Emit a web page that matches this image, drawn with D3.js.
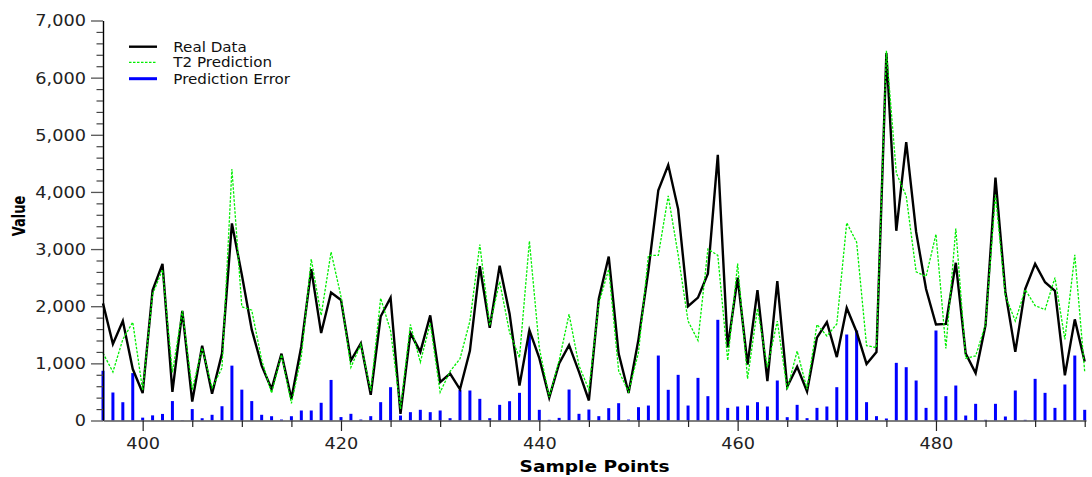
<!DOCTYPE html>
<html>
<head>
<meta charset="utf-8">
<script src="https://cdn.jsdelivr.net/npm/d3@7"></script>
<style>
  html, body { margin: 0; padding: 0; background: #fff; }
  svg { display: block; }
  text { font-family: "DejaVu Sans", Verdana, sans-serif; }
</style>
</head>
<body>
<svg id="chart" width="1092" height="477"></svg>
<script>
// Sample indices on the x axis
const samplePoints = [
  396, 397, 398, 399, 400, 401, 402, 403, 404, 405,
  406, 407, 408, 409, 410, 411, 412, 413, 414, 415,
  416, 417, 418, 419, 420, 421, 422, 423, 424, 425,
  426, 427, 428, 429, 430, 431, 432, 433, 434, 435,
  436, 437, 438, 439, 440, 441, 442, 443, 444, 445,
  446, 447, 448, 449, 450, 451, 452, 453, 454, 455,
  456, 457, 458, 459, 460, 461, 462, 463, 464, 465,
  466, 467, 468, 469, 470, 471, 472, 473, 474, 475,
  476, 477, 478, 479, 480, 481, 482, 483, 484, 485,
  486, 487, 488, 489, 490, 491, 492, 493, 494, 495
];

// Observed values
const realData = [
  2050, 1340, 1740, 900, 480, 2280, 2740, 500, 1920, 330,
  1310, 470, 1170, 3450, 2550, 1590, 960, 550, 1170, 380,
  1300, 2650, 1530, 2240, 2110, 1050, 1350, 450, 1820, 2150,
  115, 1530, 1200, 1840, 670, 820, 545, 1220, 2700, 1620,
  2710, 1870, 612, 1580, 1090, 400, 1000, 1320, 850, 350,
  2130, 2870, 1170, 480, 1420, 2625, 4030, 4470, 3700, 2000,
  2150, 2570, 4650, 1280, 2500, 980, 2280, 690, 2440, 590,
  940, 510, 1450, 1720, 1110, 1970, 1550, 990, 1200, 6430,
  3320, 4870, 3300, 2300, 1680, 1690, 2760, 1170, 830, 1670,
  4250, 2250, 1200, 2300, 2740, 2420, 2270, 790, 1770, 1030
];

// T2 model predictions
const t2Prediction = [
  1180, 850, 1420, 1720, 530, 2210, 2640, 840, 1920, 540,
  1270, 570, 920, 4400, 1990, 1930, 1060, 480, 1150, 300,
  1120, 2825, 1840, 2950, 2170, 930, 1335, 520, 2140, 1570,
  200, 1680, 1020, 1700, 495, 860, 1080, 1740, 3080, 1660,
  2430, 1540, 1100, 3140, 1270, 410, 1050, 1860, 960, 540,
  2050, 2650, 870, 500, 1190, 2887, 2890, 3930, 2900, 1740,
  1400, 3000, 2890, 1050, 2745, 730, 1960, 935, 1740, 540,
  1215, 550, 1680, 1480, 1690, 3460, 3120, 1310, 1275, 6470,
  4330, 3930, 2600, 2520, 3260, 1260, 3360, 1090, 1130, 1680,
  3950, 2180, 1740, 2290, 2010, 1940, 2500, 1420, 2900, 850
];

// Absolute prediction error per sample
const predictionError = [
  870, 490, 320, 830, 50, 90, 115, 340, 5, 200,
  40, 100, 250, 960, 540, 340, 100, 75, 17, 75,
  175, 175, 310, 710, 60, 117, 17, 76, 321, 583,
  87, 146, 187, 146, 175, 41, 537, 525, 379, 41,
  274, 338, 484, 1570, 187, 12, 46, 542, 117, 192,
  76, 216, 303, 17, 233, 262, 1137, 537, 799, 262,
  746, 426, 1762, 221, 245, 262, 321, 245, 700, 58,
  274, 41, 221, 245, 583, 1505, 1575, 321, 76, 35,
  1009, 933, 700, 221, 1575, 426, 612, 87, 292, 12,
  292, 70, 525, 12, 729, 484, 221, 630, 1137, 187
];

const xMajorTicks = [400, 420, 440, 460, 480];
const xMinorTicks = [405, 410, 415, 425, 430, 435, 445, 450, 455, 465, 470, 475, 485, 490, 495];
const yMajorTicks = [0, 1000, 2000, 3000, 4000, 5000, 6000, 7000];
const yMinorTicks = [
  200, 400, 600, 800, 1200, 1400, 1600, 1800, 2200, 2400, 2600, 2800,
  3200, 3400, 3600, 3800, 4200, 4400, 4600, 4800, 5200, 5400, 5600, 5800,
  6200, 6400, 6600, 6800
];

const legendItems = ["Real Data", "T2 Prediction", "Prediction Error"];
const xTitle = "Sample Points";
const yTitle = "Value";

const colors = { real: "#000000", pred: "#00ee00", err: "#0000ff" };
const textStretch = 1.18;

const svg = d3.select("#chart");

const x = d3.scaleLinear().domain([396, 495.13]).range([103, 1086]);
const y = d3.scaleLinear().domain([0, 7000]).range([420.5, 20.5]);

const rows = samplePoints.map((s, i) => ({
  s, real: realData[i], pred: t2Prediction[i], err: predictionError[i]
}));

// Error bars (drawn first so the lines sit on top)
svg.append("g")
  .selectAll("line")
  .data(rows)
  .join("line")
  .attr("x1", d => x(d.s))
  .attr("x2", d => x(d.s))
  .attr("y1", y(0))
  .attr("y2", d => y(d.err))
  .attr("stroke", colors.err)
  .attr("stroke-width", 3);

// Real data line
svg.append("path")
  .datum(rows)
  .attr("fill", "none")
  .attr("stroke", colors.real)
  .attr("stroke-width", 2.4)
  .attr("stroke-linejoin", "miter")
  .attr("d", d3.line().x(d => x(d.s)).y(d => y(d.real)));

// Prediction line (dotted)
svg.append("path")
  .datum(rows)
  .attr("fill", "none")
  .attr("stroke", colors.pred)
  .attr("stroke-width", 1.3)
  .attr("stroke-dasharray", "2.5,1.5")
  .attr("d", d3.line().x(d => x(d.s)).y(d => y(d.pred)));

// Y axis: major ticks with labels, minor ticks without
const yMajor = svg.append("g")
  .attr("transform", `translate(${x.range()[0]},0)`)
  .call(d3.axisLeft(y).tickValues(yMajorTicks).tickSize(12).tickSizeOuter(0)
        .tickFormat(d3.format(",")));
yMajor.select(".domain").attr("stroke", "#000").attr("stroke-width", 1.4);
yMajor.selectAll(".tick line").attr("stroke", "#555").attr("stroke-width", 1.3);
yMajor.selectAll(".tick text")
  .attr("x", null).attr("dy", "0.36em")
  .attr("transform", `translate(-17,0) scale(${textStretch},1)`)
  .attr("font-size", 15).attr("font-family", "DejaVu Sans").attr("fill", "#222");

const yMinor = svg.append("g")
  .attr("transform", `translate(${x.range()[0]},0)`)
  .call(d3.axisLeft(y).tickValues(yMinorTicks).tickSize(6.5).tickSizeOuter(0).tickFormat(""));
yMinor.select(".domain").remove();
yMinor.selectAll(".tick line").attr("stroke", "#444").attr("stroke-width", 1.2);

// X axis
const xMajor = svg.append("g")
  .attr("transform", `translate(0,${y(0)})`)
  .call(d3.axisBottom(x).tickValues(xMajorTicks).tickSize(10.5).tickSizeOuter(0));
xMajor.select(".domain").attr("stroke", "#555").attr("stroke-width", 1.6);
xMajor.selectAll(".tick line").attr("stroke", "#222").attr("stroke-width", 1.2);
xMajor.selectAll(".tick text")
  .attr("y", null).attr("dy", null)
  .attr("transform", `translate(0,28) scale(${textStretch},1)`)
  .attr("font-size", 15).attr("font-family", "DejaVu Sans").attr("fill", "#222");

const xMinor = svg.append("g")
  .attr("transform", `translate(0,${y(0)})`)
  .call(d3.axisBottom(x).tickValues(xMinorTicks).tickSize(6.5).tickSizeOuter(0).tickFormat(""));
xMinor.select(".domain").remove();
xMinor.selectAll(".tick line").attr("stroke", "#222").attr("stroke-width", 1.2);

// Axis titles
svg.append("text")
  .attr("transform", `translate(594.5,472) scale(1.2,1)`)
  .attr("text-anchor", "middle")
  .attr("font-size", 15.5)
  .attr("font-weight", "bold")
  .attr("fill", "#000")
  .text(xTitle);

svg.append("text")
  .attr("transform", `translate(25,216) scale(1.3,1) rotate(-90)`)
  .attr("text-anchor", "middle")
  .attr("font-size", 13)
  .attr("font-weight", "bold")
  .attr("fill", "#000")
  .text(yTitle);

// Legend
const legend = svg.append("g");
const legendRows = [
  { label: legendItems[0], y: 46.7, stroke: colors.real, width: 2.4, dash: null },
  { label: legendItems[1], y: 62.3, stroke: colors.pred, width: 1.3, dash: "2.5,1.5" },
  { label: legendItems[2], y: 78.7, stroke: colors.err, width: 3, dash: null }
];
legendRows.forEach(r => {
  legend.append("line")
    .attr("x1", 129).attr("x2", 157)
    .attr("y1", r.y).attr("y2", r.y)
    .attr("stroke", r.stroke)
    .attr("stroke-width", r.width)
    .attr("stroke-dasharray", r.dash);
  legend.append("text")
    .attr("transform", `translate(173.3,${r.y + 5}) scale(1.08,1)`)
    .attr("font-size", 14)
    .attr("fill", "#111")
    .text(r.label);
});
</script>
</body>
</html>
